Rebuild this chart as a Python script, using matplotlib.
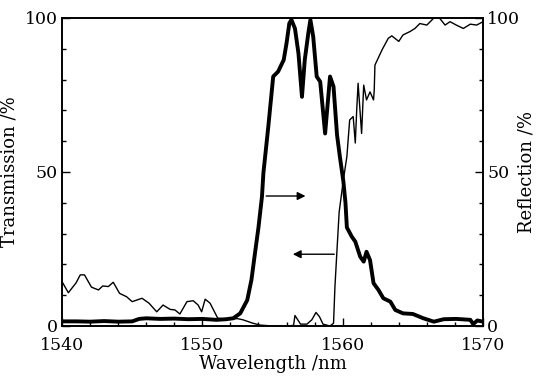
import matplotlib.pyplot as plt
from matplotlib.ticker import MultipleLocator

# Transmission (thin line)
trans_wl = [1540.0, 1540.45, 1541.0, 1541.3, 1541.6, 1542.1, 1542.6, 1542.9, 1543.3, 1543.65,
            1544.1, 1544.6, 1545.0, 1545.7, 1546.2, 1546.75, 1547.2, 1547.7, 1548.05, 1548.4,
            1548.9, 1549.35, 1549.7, 1549.95, 1550.2, 1550.55, 1551.1, 1551.6, 1552.0, 1552.5,
            1552.9, 1553.6, 1554.1, 1555.0, 1556.0, 1556.5, 1556.6, 1557.0, 1557.45, 1557.8,
            1558.1, 1558.35, 1558.6, 1559.1, 1559.35, 1559.45, 1559.6, 1559.75, 1560.05, 1560.3,
            1560.5, 1560.75, 1560.9, 1561.0, 1561.1, 1561.35, 1561.5, 1561.7, 1561.95, 1562.2,
            1562.25, 1562.3, 1562.8, 1563.25, 1563.5, 1564.0, 1564.3, 1564.8, 1565.15, 1565.5,
            1566.0, 1566.5, 1566.9, 1567.3, 1567.65, 1568.1, 1568.6, 1569.1, 1569.55, 1570.0]
trans = [14.4, 10.8, 14.0, 16.6, 16.6, 12.6, 11.7, 13.0, 12.8, 14.2,
         10.6, 9.5, 7.9, 9.0, 7.4, 4.6, 6.8, 5.4, 5.2, 3.9,
         7.9, 8.2, 6.8, 4.6, 8.7, 7.4, 2.5, 2.3, 2.2, 2.4,
         2.0, 0.9, 0.3, 0.0, 0.0, 0.2, 3.4, 0.6, 0.6, 2.0,
         4.4, 3.0, 0.6, 0.0, 0.9, 12.8, 25.0, 37.0, 47.4, 55.0,
         66.9, 68.0, 59.4, 70.0, 78.8, 62.5, 78.2, 73.4, 76.0, 73.4,
         76.6, 84.7, 89.6, 93.4, 94.2, 92.4, 94.5, 95.6, 96.6, 98.2,
         97.7, 100.0, 100.0, 97.7, 98.8, 97.7, 96.6, 98.0, 97.7, 98.8]

# Reflection (thick line)
refl_wl = [1540.0, 1541.0, 1542.0, 1543.0, 1544.0, 1545.0, 1545.5, 1546.0, 1547.0, 1548.0,
           1549.0, 1550.0, 1551.0, 1551.7, 1552.2, 1552.7, 1553.2, 1553.5, 1553.75, 1554.0,
           1554.25, 1554.35, 1554.7, 1555.05, 1555.4, 1555.8, 1556.0, 1556.2, 1556.35, 1556.6,
           1556.85, 1557.1, 1557.3, 1557.55, 1557.7, 1557.9, 1558.15, 1558.4, 1558.75, 1559.1,
           1559.35, 1559.6, 1559.8, 1560.05, 1560.2, 1560.3, 1560.65, 1560.9, 1561.25, 1561.5,
           1561.7, 1561.95, 1562.2, 1562.55, 1562.9, 1563.4, 1563.75, 1564.3, 1565.0, 1565.75,
           1566.5, 1567.2, 1568.1, 1569.1, 1569.3, 1569.6, 1570.0]
refl = [1.5, 1.5, 1.4, 1.6, 1.4, 1.5, 2.3, 2.5, 2.3, 2.4,
        2.2, 2.3, 2.0, 2.2, 2.5, 4.1, 8.4, 15.0, 23.6, 32.0,
        42.0, 49.6, 64.7, 81.0, 82.6, 86.4, 91.8, 98.3, 99.4, 96.6,
        88.5, 74.4, 86.4, 95.0, 99.4, 94.0, 81.0, 79.3, 62.5, 81.0,
        77.7, 62.0, 55.0, 47.0, 40.0, 32.0, 29.0, 27.4, 22.5, 20.9,
        24.1, 21.4, 13.9, 11.7, 9.0, 7.9, 5.2, 4.1, 3.9, 2.5,
        1.4, 2.2, 2.3, 2.0, 0.6, 1.8, 1.4]

plt.rcParams['font.family'] = ['DejaVu Serif']

fig = plt.figure(figsize=(5.37, 3.78), dpi=100)
ax = fig.add_axes([0.1155, 0.1376, 0.7839, 0.8148])

ax.plot(trans_wl, trans, color='black', lw=1.0)
ax.plot(refl_wl, refl, color='black', lw=2.8)

# arrows pointing to the matching axis
ax.annotate('', xy=(1557.55, 42.2), xytext=(1554.35, 42.2),
            arrowprops=dict(arrowstyle='-|>', color='black', lw=1.0, mutation_scale=12))
ax.annotate('', xy=(1556.25, 23.3), xytext=(1559.6, 23.3),
            arrowprops=dict(arrowstyle='-|>', color='black', lw=1.0, mutation_scale=12))

ax.set_xlim(1540, 1570)
ax.set_ylim(0, 100)
ax.set_xticks([1540, 1550, 1560, 1570])
ax.set_yticks([0, 50, 100])
ax.xaxis.set_minor_locator(MultipleLocator(2))
ax.yaxis.set_minor_locator(MultipleLocator(10))
ax.set_xlabel('Wavelength /nm', fontsize=13, labelpad=1)
ax.set_ylabel('Transmission /%', fontsize=13)
ax.yaxis.set_label_coords(-0.103, 0.5)

ax2 = ax.twinx()
ax2.set_ylim(0, 100)
ax2.set_yticks([0, 50, 100])
ax2.yaxis.set_minor_locator(MultipleLocator(10))
ax2.set_ylabel('Reflection /%', fontsize=13)
ax2.yaxis.set_label_coords(1.083, 0.5)

for a in (ax, ax2):
    a.tick_params(which='both', direction='in', top=False, labelsize=12.5, width=1.0)
    a.tick_params(which='major', length=6, pad=3)
    a.tick_params(which='minor', length=3)
    for s in a.spines.values():
        s.set_linewidth(1.2)
ax.tick_params(axis='x', pad=8)

fig.savefig('out.png', dpi=100)
